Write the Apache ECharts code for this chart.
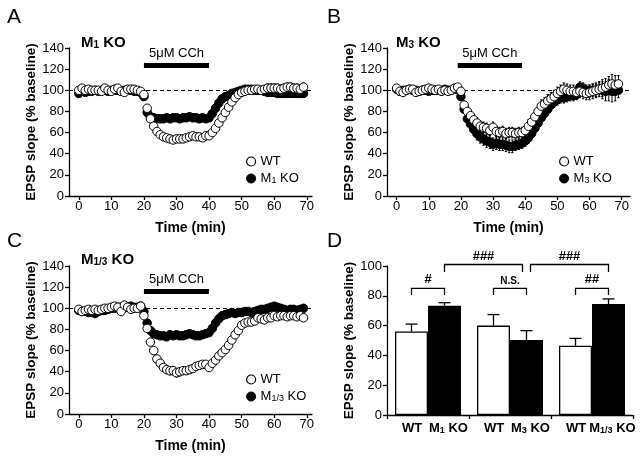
<!DOCTYPE html>
<html><head><meta charset="utf-8">
<script src="https://cdn.jsdelivr.net/npm/echarts@6/dist/echarts.min.js"></script>
<style>html,body{margin:0;padding:0;background:#fff}#c{width:640px;height:456px}</style>
</head><body><div id="c"></div>
<script>
// ---------- DATA ----------
const times = [0,1,2,3,4,5,6,7,8,9,10,11,12,13,14,15,16,17,18,19,20,21,22,23,24,25,26,27,28,29,30,31,32,33,34,35,36,37,38,39,40,41,42,43,44,45,46,47,48,49,50,51,52,53,54,55,56,57,58,59,60,61,62,63,64,65,66,67,68,69];
const xTicks = [0,10,20,30,40,50,60,70];
const baselineLevel = 100;
const drugLabel = '5μM CCh';
const drugStart = [20,19,20];
const drugEnd = [40,39,40];
const drugLevel = [124,124,116];

// Panel A (M1 KO)
const aWT = [100,102,100,101,100,100,100,99,102,100, 99,101,102,99,98,101,101,101,100,99,
  96,83,73,66,61,58,56,55,54,53, 54,54,54,55,56,57,56,56,55,57,
  57,60,64,69,74,79,84,89,93,96, 98,99,100,100,101,101,100,101,102,102,
  102,102,101,102,103,103,102,102,101,103];
const aWTerr = [1.5,1.5,1.5,1.5,1.5,1.5,1.5,1.5,1.5,1.5, 1.5,1.5,1.5,1.5,1.5,1.5,1.5,1.5,1.5,1.5,
  2,3,3,3,3,3,3,3,3,3, 3,3,3,3,3,3,3,3,3,3,
  3,3,3,3,3,3,3,3,3,3, 3,3,3,3,3,3,3,3,4,4,
  4,4,4,4,4,4,4,4,4,4];
const aKO = [97,99,98,99,99,100,99,100,100,99, 100,100,100,99,100,100,100,99,99,98,
  94,79,75,74,73,73,73,74,73,74, 74,73,74,74,75,74,74,73,74,73,
  74,78,83,88,92,94,95,97,98,99, 100,101,101,101,100,100,100,99,98,98,
  98,97,97,97,97,97,97,97,97,97];
const aKOerr = [1.5,1.5,1.5,1.5,1.5,1.5,1.5,1.5,1.5,1.5, 1.5,1.5,1.5,1.5,1.5,1.5,1.5,1.5,1.5,1.5,
  2,2,2,2,2,2,2,2,2,2, 2,2,2,2,2,2,2,2,2,2,
  2,2,2,2,2,2,2,2,2,2, 2,2,2,2,2,2,2,2,2,2,
  2,2,2,2,2,2,2,2,2,2];

// Panel B (M3 KO)
const bWT = [102,99,98,100,101,101,98,99,100,101, 102,101,100,101,99,100,99,100,102,103,
  99,86,80,76,72,69,66,65,64,62, 65,61,60,61,59,60,60,59,60,60,
  62,66,70,75,80,85,87,90,92,94, 97,99,101,100,99,99,98,99,98,97,
  98,99,100,101,102,103,105,106,105,106];
const bWTerr = [2,2,2,2,2,2,2,2,2,2, 2,2,2,2,2,2,2,2,2,2,
  3,4,4,4,5,5,5,5,5,5, 5,5,5,5,5,5,5,5,5,5,
  5,6,6,6,6,6,6,6,6,6, 6,6,6,6,6,6,6,6,6,6,
  7,7,7,7,8,8,8,9,9,8];
const bKO = [101,99,100,100,101,100,100,99,100,100, 99,100,100,100,100,101,100,100,101,101,
  94,82,73,68,63,59,56,54,52,51, 49,50,49,49,48,47,47,48,49,50,
  52,55,59,64,69,74,78,82,86,89, 91,93,93,94,95,95,96,103,102,100,
  99,100,100,101,100,99,100,99,99,100];
const bKOerr = [2,2,2,2,2,2,2,2,2,2, 2,2,2,2,2,2,2,2,2,2,
  3,4,5,5,6,6,6,6,6,6, 6,6,6,6,6,6,6,5,5,5,
  5,5,5,5,5,5,5,5,5,5, 5,5,5,5,5,5,5,5,5,5,
  6,6,6,7,8,9,10,10,9,7];

// Panel C (M1/3 KO)
const cWT = [99,97,98,99,98,99,98,99,100,100, 101,102,101,97,103,101,99,100,100,102,
  93,81,68,60,52,48,44,42,41,41, 39,40,41,41,42,43,45,46,47,47,
  44,48,51,55,58,61,65,70,75,79, 84,86,87,87,88,91,90,89,91,91,
  93,92,93,93,92,93,93,92,93,91];
const cWTerr = [1.5,1.5,1.5,1.5,1.5,1.5,1.5,1.5,1.5,1.5, 1.5,1.5,1.5,1.5,1.5,1.5,1.5,1.5,1.5,1.5,
  2,3,3,3,3,3,3,4,4,4, 4,4,3,3,3,3,3,3,3,3,
  3,3,3,3,3,3,3,3,3,3, 3,3,3,3,3,3,3,3,3,3,
  2,2,2,2,2,2,2,2,2,2];
const cKO = [98,97,97,96,96,95,97,98,98,99, 100,100,101,101,101,101,102,101,101,102,
  97,86,79,76,75,74,74,73,75,74, 75,74,74,75,76,75,74,74,75,76,
  77,81,86,90,93,94,95,96,95,96, 96,97,97,96,97,98,99,99,100,101,
  102,101,100,99,98,99,99,98,99,100];
const cKOerr = [1.5,1.5,1.5,1.5,1.5,1.5,1.5,1.5,1.5,1.5, 1.5,1.5,1.5,1.5,1.5,1.5,1.5,1.5,1.5,1.5,
  1.5,1.5,1.5,1.5,1.5,1.5,1.5,1.5,1.5,1.5, 1.5,1.5,1.5,1.5,1.5,1.5,1.5,1.5,1.5,1.5,
  1.5,1.5,1.5,1.5,1.5,1.5,1.5,1.5,1.5,1.5, 1.5,1.5,1.5,1.5,1.5,1.5,1.5,1.5,1.5,1.5,
  1.5,1.5,1.5,1.5,1.5,1.5,1.5,1.5,1.5,1.5];

const koNames = ['M1 KO','M3 KO','M1/3 KO'];
const panelTitles = ['M1 KO','M3 KO','M1/3 KO'];
const panelLetters = ['A','B','C','D'];

// Panel D (bars)
const dGroups = ['M1','M3','M1/3'];
const dLabels = ['WT','M1 KO','WT','M3 KO','WT','M1/3 KO'];
const dWT = [56,60,46.5];
const dWTerr = [5,7.4,4.9];
const dKO = [73.4,50.3,74.5];
const dKOerr = [2,6.3,3.4];
// brackets: from (group, side) to (group, side); side 0 = WT, 1 = KO
const brGroupA = [0,1,2,0,1];
const brSideA  = [0,0,0,1,1];
const brGroupB = [0,1,2,1,2];
const brSideB  = [1,1,1,1,1];
const brTop    = [85,85,85,101,101];
const brLeg    = [80.5,80.5,80.5,96,96];
const brLabel  = ['#','N.S.','##','###','###'];

// ---------- STYLE / LAYOUT ----------
const FONT = "'Liberation Sans', Arial, Helvetica, sans-serif";
const BAR_W = 33;
const grids = [
  {left:69, top:48, width:243, height:148},
  {left:387, top:48, width:243, height:148},
  {left:69, top:266, width:243, height:148},
  {left:387, top:266, width:246, height:149}
];
const xMax = [71.6, 72.6, 71.6];
const richSub = (size) => ({
  n:{fontSize:size, fontWeight:'bold', fontFamily:FONT, color:'#000'},
  s:{fontSize:Math.round(size*0.68), fontWeight:'bold', fontFamily:FONT, color:'#000', verticalAlign:'bottom'},
  w:{fontSize:size, fontWeight:'bold', fontFamily:FONT, color:'#000', padding:[0,0,0,9]}
});
const richSubN = (size) => ({
  n:{fontSize:size, fontFamily:FONT, color:'#000'},
  s:{fontSize:Math.round(size*0.7), fontFamily:FONT, color:'#000', verticalAlign:'bottom'}
});
function subFmt(name) {
  const m = name.match(/^M([\d\/]+)(.*)$/);
  if (!m) return '{n|' + name + '}';
  return '{n|M}{s|' + m[1] + '}{n|' + m[2] + '}';
}
const axisLineStyle = {color:'#000', width:1.3};

function timeX(gi) {
  return {type:'value', gridIndex:gi, min:-3, max:xMax[gi],
    name:'Time (min)', nameLocation:'middle', nameGap:25,
    nameTextStyle:{fontSize:14, fontWeight:'bold', color:'#000', fontFamily:FONT},
    axisLine:{show:true, onZero:false, lineStyle:axisLineStyle},
    axisTick:{show:true, length:4, customValues:xTicks, lineStyle:axisLineStyle},
    axisLabel:{customValues:xTicks, margin:4, fontSize:13, color:'#000', fontFamily:FONT},
    splitLine:{show:false}};
}
function yAx(gi, max) {
  return {type:'value', gridIndex:gi, min:0, max:max, interval:20,
    name:'EPSP slope (% baseline)', nameLocation:'middle', nameGap:27,
    nameTextStyle:{fontSize:13.5, fontWeight:'bold', color:'#000', fontFamily:FONT},
    axisLine:{show:true, onZero:false, lineStyle:axisLineStyle},
    axisTick:{show:true, length:4, lineStyle:axisLineStyle},
    axisLabel:{margin:5, fontSize:13, color:'#000', fontFamily:FONT},
    splitLine:{show:false}};
}
function errSeries(gi, vals, errs, z) {
  return {type:'custom', xAxisIndex:gi, yAxisIndex:gi, silent:true, z:z,
    data: times.map((t,i)=>[t, vals[i], errs[i]]),
    renderItem:(params, api)=>{
      const t = api.value(0), v = api.value(1), e = api.value(2);
      const p1 = api.coord([t, v+e]), p2 = api.coord([t, v-e]);
      const st = {stroke:'#000', lineWidth:1};
      return {type:'group', children:[
        {type:'line', shape:{x1:p1[0],y1:p1[1],x2:p2[0],y2:p2[1]}, style:st},
        {type:'line', shape:{x1:p1[0]-1.2,y1:p1[1],x2:p1[0]+1.2,y2:p1[1]}, style:st},
        {type:'line', shape:{x1:p2[0]-1.2,y1:p2[1],x2:p2[0]+1.2,y2:p2[1]}, style:st}
      ]};
    }};
}
function scatter(gi, name, vals, filled, z) {
  return {type:'scatter', name:name, xAxisIndex:gi, yAxisIndex:gi, z:z,
    symbol:'circle', symbolSize:8.5,
    itemStyle: filled ? {color:'#000', borderColor:'#000', borderWidth:1, opacity:1} : {color:'#fff', borderColor:'#000', borderWidth:1, opacity:1},
    emphasis:{disabled:true},
    data: times.map((t,i)=>[t, vals[i]])};
}
function refSeries(gi) {
  return {type:'line', xAxisIndex:gi, yAxisIndex:gi, data:[], z:1, silent:true,
    markLine:{silent:true, symbol:['none','none'], animation:false, data:[
      {yAxis:baselineLevel, lineStyle:{type:[4,3], color:'#000', width:1.2}, label:{show:false}},
      [{coord:[drugStart[gi], drugLevel[gi]], lineStyle:{type:'solid', width:5, color:'#000'},
        label:{show:true, position:'insideMiddleTop', distance:5, formatter:drugLabel, fontSize:13, color:'#000', fontFamily:FONT}},
       {coord:[drugEnd[gi], drugLevel[gi]]}]
    ]}};
}

const panels = [
  {wt:aWT, wte:aWTerr, ko:aKO, koe:aKOerr},
  {wt:bWT, wte:bWTerr, ko:bKO, koe:bKOerr},
  {wt:cWT, wte:cWTerr, ko:cKO, koe:cKOerr}
];

const series = [];
panels.forEach((p, gi) => {
  series.push(refSeries(gi));
  series.push(errSeries(gi, p.ko, p.koe, 2));
  series.push(scatter(gi, koNames[gi], p.ko, true, 3));
  series.push(errSeries(gi, p.wt, p.wte, 4));
  series.push(scatter(gi, 'WT', p.wt, false, 5));
});

// Panel D bars
series.push({type:'bar', name:'D WT', xAxisIndex:3, yAxisIndex:3, data:dWT, barWidth:BAR_W, barGap:'0%', z:2,
  emphasis:{disabled:true},
  itemStyle:{color:'#fff', borderColor:'#000', borderWidth:1.3, opacity:1}});
series.push({type:'bar', name:'D KO', xAxisIndex:3, yAxisIndex:3, data:dKO, barWidth:BAR_W, barGap:'0%', z:2,
  emphasis:{disabled:true},
  itemStyle:{color:'#000', borderColor:'#000', borderWidth:1.3, opacity:1}});
function barErr(vals, errs, side) {
  return {type:'custom', xAxisIndex:3, yAxisIndex:3, silent:true, z:3,
    data: vals.map((v,i)=>[i, v, errs[i]]),
    renderItem:(params, api)=>{
      const i = api.value(0), v = api.value(1), e = api.value(2);
      const off = side ? BAR_W/2 : -BAR_W/2;
      const p1 = api.coord([i, v]), p2 = api.coord([i, v+e]);
      const x = p1[0] + off;
      const st = {stroke:'#000', lineWidth:1.3};
      return {type:'group', children:[
        {type:'line', shape:{x1:x,y1:p1[1],x2:x,y2:p2[1]}, style:st},
        {type:'line', shape:{x1:x-6,y1:p2[1],x2:x+6,y2:p2[1]}, style:st}
      ]};
    }};
}
series.push(barErr(dWT, dWTerr, 0));
series.push(barErr(dKO, dKOerr, 1));
series.push({type:'custom', xAxisIndex:3, yAxisIndex:3, silent:true, z:4, clip:false,
  data: brLabel.map((l,i)=>[brGroupA[i], brSideA[i], brGroupB[i], brSideB[i], brTop[i], brLeg[i]]),
  renderItem:(params, api)=>{
    const k = params.dataIndex;
    const half = BAR_W/2;
    const shared = (g, s, self) => brLabel.some((_, j) => j !== self &&
      ((brGroupA[j]===g && brSideA[j]===s) || (brGroupB[j]===g && brSideB[j]===s)) && brTop[j]===brTop[self]);
    let x1 = api.coord([brGroupA[k], 0])[0] + (brSideA[k] ? half : -half);
    let x2 = api.coord([brGroupB[k], 0])[0] + (brSideB[k] ? half : -half);
    if (shared(brGroupA[k], brSideA[k], k)) x1 += 4;
    if (shared(brGroupB[k], brSideB[k], k)) x2 -= 4;
    const yT = api.coord([0, brTop[k]])[1], yL = api.coord([0, brLeg[k]])[1];
    const small = brLabel[k] === 'N.S.';
    return {type:'group', children:[
      {type:'polyline', shape:{points:[[x1,yL],[x1,yT],[x2,yT],[x2,yL]]}, style:{stroke:'#000', lineWidth:1.3, fill:null}},
      {type:'text', style:{text:brLabel[k], x:(x1+x2)/2, y:yT-2, align:'center', verticalAlign:'bottom',
        fontSize: small ? 10 : 13, fontWeight:'bold', fontFamily:FONT, fill:'#000'}}
    ]};
  }});

const titles = [];
const letterPos = [[2,2],[322,2],[2,226],[322,226]];
panelLetters.forEach((L,i)=>titles.push({text:L, left:letterPos[i][0], top:letterPos[i][1],
  textStyle:{fontSize:21, fontWeight:'normal', color:'#000', fontFamily:FONT}}));
const titlePos = [[76,30],[391,30],[76,247]];
panelTitles.forEach((t,i)=>titles.push({text:subFmt(t), left:titlePos[i][0], top:titlePos[i][1],
  textStyle:{rich:richSub(15)}}));

const legendPos = [[241,150],[554,150],[241,368]];
const legends = koNames.map((kn,i)=>({
  left:legendPos[i][0], top:legendPos[i][1], orient:'vertical', itemGap:4,
  itemWidth:9, itemHeight:9, selectedMode:false,
  data:[
    {name:'WT', icon:'circle', itemStyle:{color:'#fff', borderColor:'#000', borderWidth:1.2, opacity:1}},
    {name:kn, icon:'circle', itemStyle:{color:'#000', borderColor:'#000', borderWidth:1, opacity:1}}
  ],
  formatter:subFmt,
  textStyle:{fontSize:13, color:'#000', fontFamily:FONT, lineHeight:13, rich:richSubN(13)}
}));

const option = {
  animation:false,
  backgroundColor:'#fff',
  title:titles,
  legend:legends,
  grid:grids,
  xAxis:[timeX(0), timeX(1), timeX(2),
    {type:'category', gridIndex:3, data:dGroups,
      axisLine:{show:true, lineStyle:axisLineStyle},
      axisTick:{show:true, length:4, lineStyle:axisLineStyle},
      axisLabel:{show:false}, splitLine:{show:false}},
    {type:'category', gridIndex:3, data:dLabels, position:'bottom',
      axisLine:{show:false}, axisTick:{show:false}, splitLine:{show:false},
      axisLabel:{margin:7, interval:0,
        formatter:(n)=> n==='WT' ? '{w|WT}' : subFmt(n),
        rich:richSub(13)}}
  ],
  yAxis:[yAx(0,140), yAx(1,140), yAx(2,140), yAx(3,100)],
  series:series
};
const chart = echarts.init(document.getElementById('c'), null, {renderer:'canvas'});
chart.setOption(option);
</script>
</body></html>
